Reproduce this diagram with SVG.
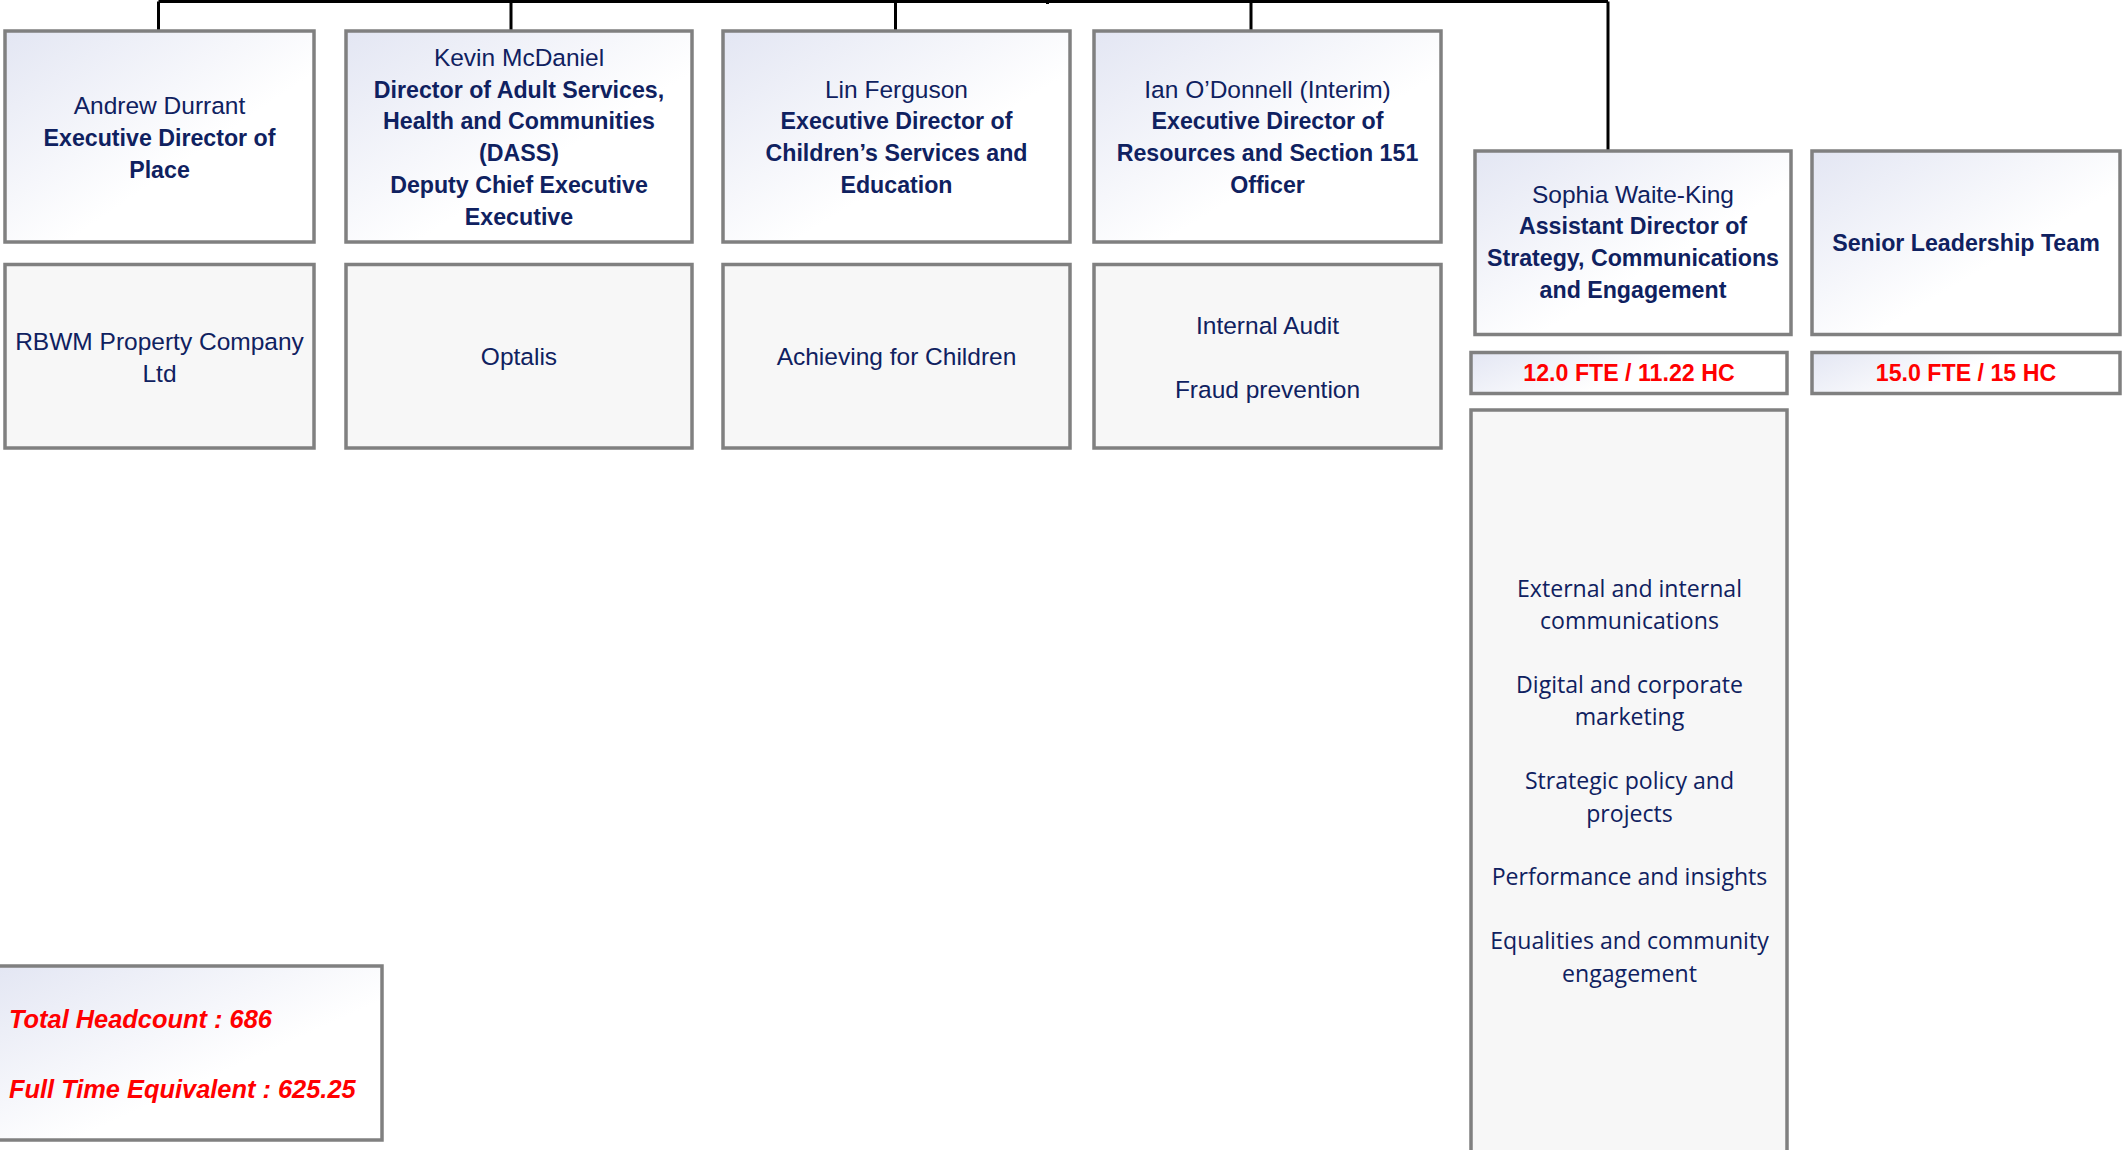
<svg xmlns="http://www.w3.org/2000/svg" width="2124" height="1150" viewBox="0 0 2124 1150">
<defs>
<linearGradient id="gTop" x1="0" y1="0" x2="1" y2="1">
<stop offset="0" stop-color="#e3e6f3"/>
<stop offset="0.6" stop-color="#ffffff"/>
<stop offset="1" stop-color="#ffffff"/>
</linearGradient>
<linearGradient id="gFte" x1="0" y1="0" x2="1" y2="0.3">
<stop offset="0" stop-color="#e3e6f3"/>
<stop offset="0.6" stop-color="#ffffff"/>
<stop offset="1" stop-color="#ffffff"/>
</linearGradient>
<style>
.box{stroke:#808080;stroke-width:3.5;}
.top{fill:url(#gTop);}
.low{fill:#f7f7f7;}
.fte{fill:url(#gFte);}
.t{font-family:"Liberation Sans",Arial,sans-serif;font-size:24.5px;fill:#0f2160;text-anchor:middle;}
.b{font-family:"Liberation Sans",Arial,sans-serif;font-size:23.2px;font-weight:bold;fill:#0f2160;text-anchor:middle;}
.o{font-family:"Open Sans","DejaVu Sans",sans-serif;font-size:23.1px;fill:#0f2160;text-anchor:middle;}
.r{font-family:"Liberation Sans",Arial,sans-serif;font-size:23.2px;font-weight:bold;fill:#ff0000;text-anchor:middle;}
.ri{font-family:"Liberation Sans",Arial,sans-serif;font-size:25.4px;font-weight:bold;font-style:italic;fill:#ff0000;}
.c{stroke:#000000;stroke-width:3;fill:none;}
</style>
</defs>
<g id="connectors">
<path class="c" d="M158.5,1.5 H1608 M158.5,1.5 V31 M511,1.5 V31 M895.5,1.5 V31 M1251,1.5 V31 M1608,1.5 V151 M1047.5,0 V4"/>
</g>
<g id="andrew">
<rect class="box top" x="5" y="31" width="309" height="211"/>
<text class="t" x="159.5" y="113.8">Andrew Durrant</text>
<text class="b" x="159.5" y="145.8">Executive Director of</text>
<text class="b" x="159.5" y="177.8">Place</text>
</g>
<g id="kevin">
<rect class="box top" x="346" y="31" width="346" height="211"/>
<text class="t" x="519" y="65.8">Kevin McDaniel</text>
<text class="b" x="519" y="97.8">Director of Adult Services,</text>
<text class="b" x="519" y="129.4">Health and Communities</text>
<text class="b" x="519" y="161.2">(DASS)</text>
<text class="b" x="519" y="193">Deputy Chief Executive</text>
<text class="b" x="519" y="224.8">Executive</text>
</g>
<g id="lin">
<rect class="box top" x="723" y="31" width="347" height="211"/>
<text class="t" x="896.5" y="97.5">Lin Ferguson</text>
<text class="b" x="896.5" y="129.3">Executive Director of</text>
<text class="b" x="896.5" y="161.1">Children’s Services and</text>
<text class="b" x="896.5" y="192.9">Education</text>
</g>
<g id="ian">
<rect class="box top" x="1094" y="31" width="347" height="211"/>
<text class="t" x="1267.5" y="97.5">Ian O’Donnell (Interim)</text>
<text class="b" x="1267.5" y="129.3">Executive Director of</text>
<text class="b" x="1267.5" y="161.1">Resources and Section 151</text>
<text class="b" x="1267.5" y="192.9">Officer</text>
</g>
<g id="rbwm">
<rect class="box low" x="5" y="264.5" width="309" height="183.5"/>
<text class="t" x="159.5" y="349.8">RBWM Property Company</text>
<text class="t" x="159.5" y="381.5">Ltd</text>
</g>
<g id="optalis">
<rect class="box low" x="346" y="264.5" width="346" height="183.5"/>
<text class="t" x="519" y="365">Optalis</text>
</g>
<g id="afc">
<rect class="box low" x="723" y="264.5" width="347" height="183.5"/>
<text class="t" x="896.5" y="365">Achieving for Children</text>
</g>
<g id="audit">
<rect class="box low" x="1094" y="264.5" width="347" height="183.5"/>
<text class="t" x="1267.5" y="333.8">Internal Audit</text>
<text class="t" x="1267.5" y="397.5">Fraud prevention</text>
</g>
<g id="sophia">
<rect class="box top" x="1475" y="151" width="316" height="183.5"/>
<text class="t" x="1633" y="202.5">Sophia Waite-King</text>
<text class="b" x="1633" y="234.3">Assistant Director of</text>
<text class="b" x="1633" y="266.3">Strategy, Communications</text>
<text class="b" x="1633" y="298.3">and Engagement</text>
</g>
<g id="slt">
<rect class="box top" x="1812" y="151" width="308" height="183.5"/>
<text class="b" x="1966" y="250.8">Senior Leadership Team</text>
</g>
<g id="sophia-fte">
<rect class="box fte" x="1471" y="352.5" width="316" height="41"/>
<text class="r" x="1629" y="381">12.0 FTE / 11.22 HC</text>
</g>
<g id="slt-fte">
<rect class="box fte" x="1812" y="352.5" width="308" height="41"/>
<text class="r" x="1966" y="381">15.0 FTE / 15 HC</text>
</g>
<g id="sophia-teams">
<rect class="box low" x="1471" y="410" width="316" height="760"/>
<text class="o" x="1629.5" y="596.5">External and internal</text>
<text class="o" x="1629.5" y="629">communications</text>
<text class="o" x="1629.5" y="692.5">Digital and corporate</text>
<text class="o" x="1629.5" y="725">marketing</text>
<text class="o" x="1629.5" y="789">Strategic policy and</text>
<text class="o" x="1629.5" y="821.5">projects</text>
<text class="o" x="1629.5" y="885">Performance and insights</text>
<text class="o" x="1629.5" y="949">Equalities and community</text>
<text class="o" x="1629.5" y="981.5">engagement</text>
</g>
<g id="totals">
<rect class="box top" x="-5" y="966" width="387" height="174"/>
<text class="ri" x="9" y="1027.5">Total Headcount : 686</text>
<text class="ri" x="9" y="1097.5">Full Time Equivalent : 625.25</text>
</g>
</svg>
